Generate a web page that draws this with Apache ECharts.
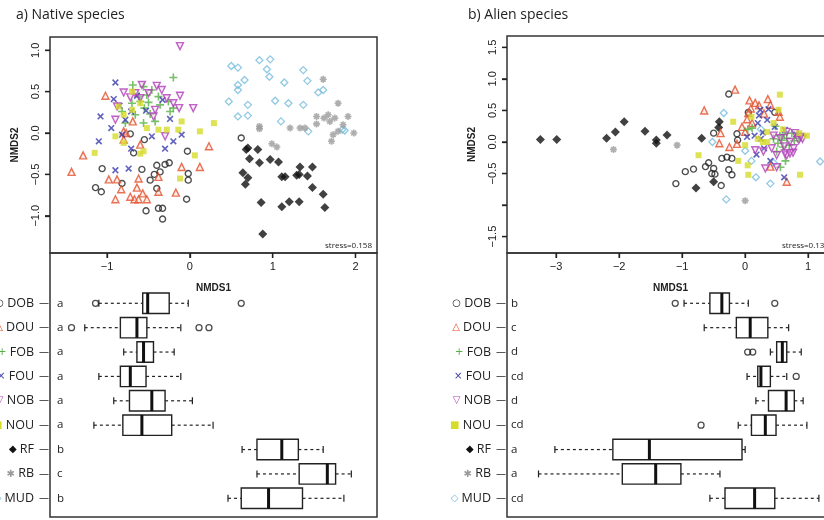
<!DOCTYPE html>
<html><head><meta charset="utf-8">
<script src="https://cdn.jsdelivr.net/npm/echarts@6/dist/echarts.min.js"></script>
<style>html,body{margin:0;padding:0;background:#fff}#c{width:824px;height:520px}</style>
</head><body><div id="c"></div>
<script>
// ---------- categories ----------
const groups = ['DOB','DOU','FOB','FOU','NOB','NOU','RF','RB','MUD'];
const lettersA = ['a','a','a','a','a','a','b','c','b'];
const lettersB = ['b','c','d','cd','d','cd','a','a','cd'];
// ---------- ticks ----------
const xTicksA = [-1,0,1,2];
const yTicksA = [-1,-0.5,0,0.5,1];
const xTicksB = [-3,-2,-1,0,1];
const yTicksB = [-1.5,-1,-0.5,0,0.5,1,1.5];
const yLabelsB = [-1.5,-0.5,0,0.5,1,1.5];

// ---------- panel a NMDS points [NMDS1, NMDS2] ----------
const dobA = [[0.62,-0.06],[-0.55,-0.08],[-0.72,-0.01],[-0.68,-0.24],[-0.03,-0.22],[-1.06,-0.43],[-0.58,-0.44],[-0.40,-0.39],[-0.30,-0.38],[-0.25,-0.36],[-0.43,-0.50],[-0.48,-0.57],[-0.36,-0.47],[-0.02,-0.49],[-0.02,-0.57],[-0.82,-0.61],[-1.14,-0.66],[-1.07,-0.71],[-0.40,-0.67],[-0.04,-0.80],[-0.53,-0.94],[-0.38,-0.91],[-0.33,-0.91],[-0.33,-1.04]];
const douA = [[-1.02,0.45],[-0.69,0.14],[-0.80,0.02],[-0.77,0.00],[-0.80,-0.08],[-0.60,-0.14],[0.23,-0.16],[-1.29,-0.27],[-1.43,-0.47],[-0.10,-0.41],[0.12,-0.41],[-0.98,-0.56],[-0.88,-0.56],[-0.62,-0.55],[-0.38,-0.53],[-0.83,-0.68],[-0.64,-0.66],[-0.38,-0.71],[-0.17,-0.72],[-0.90,-0.80],[-0.72,-0.77],[-0.67,-0.80],[-0.62,-0.80],[-0.57,-0.73],[-0.52,-0.80]];
const fobA = [[-0.20,0.67],[-0.69,0.58],[-0.56,0.56],[-0.46,0.52],[-0.62,0.44],[-0.52,0.46],[-0.38,0.44],[-0.70,0.36],[-0.60,0.38],[-0.50,0.37],[-0.36,0.34],[-0.20,0.30],[-0.26,0.38],[-0.82,0.26],[-0.66,0.22],[-0.48,0.23],[-0.56,0.12],[-0.42,0.14],[-0.78,0.12],[-0.24,0.26],[-0.55,0.30]];
const fouA = [[-0.90,0.61],[-0.92,0.41],[-1.08,0.20],[-0.95,0.06],[-0.71,0.26],[-0.53,0.27],[-0.33,0.40],[-0.24,0.17],[-0.78,0.16],[-0.10,-0.02],[-0.20,-0.10],[-0.30,-0.19],[-0.46,-0.04],[-0.71,-0.19],[-0.90,-0.45],[-0.74,-0.43],[-1.10,-0.10],[-0.82,-0.02],[-0.64,0.45],[-0.85,0.33]];
const nobA = [[-0.12,1.05],[-0.58,0.58],[-0.40,0.57],[-0.34,0.52],[-0.80,0.49],[-0.72,0.43],[-0.50,0.48],[-0.28,0.42],[-0.12,0.45],[0.04,0.30],[-0.13,0.30],[-0.20,0.36],[-0.88,0.32],[-0.90,0.16],[-0.42,0.28],[-0.44,0.20],[-0.60,0.42],[-0.30,-0.04],[-0.66,0.48]];
const nouA = [[-0.70,0.50],[-0.86,0.32],[-0.80,0.22],[-0.60,0.36],[-0.10,0.14],[0.12,0.02],[0.29,0.12],[-0.38,0.04],[-0.28,0.04],[-0.14,0.04],[-0.52,0.06],[-0.90,-0.04],[-0.70,0.28],[-1.15,-0.24],[-0.60,-0.25],[-0.56,-0.22],[0.06,-0.27],[-0.12,-0.55],[-0.80,-0.12]];
const rfA = [[0.70,-0.18],[0.68,-0.20],[0.82,-0.20],[0.72,-0.31],[0.84,-0.36],[0.97,-0.32],[1.07,-0.35],[1.33,-0.41],[1.48,-0.41],[0.64,-0.48],[0.70,-0.54],[0.67,-0.62],[1.11,-0.53],[1.15,-0.53],[1.29,-0.51],[1.32,-0.50],[1.42,-0.52],[1.48,-0.66],[1.61,-0.74],[1.63,-0.90],[1.32,-0.83],[1.20,-0.83],[1.11,-0.89],[0.86,-0.84],[0.88,-1.22]];
const rbA = [[1.61,0.65],[0.84,0.08],[0.84,0.05],[1.21,0.06],[1.33,0.06],[1.39,0.06],[1.53,0.11],[1.53,0.20],[1.67,0.22],[1.75,0.18],[1.69,0.14],[1.91,0.20],[1.79,0.36],[1.73,-0.02],[1.79,0.02],[1.71,-0.10],[1.98,0.00],[0.99,-0.13],[1.05,-0.17],[1.85,0.10],[1.62,0.18]];
const mudA = [[0.50,0.81],[0.58,0.79],[0.84,0.88],[0.97,0.89],[0.93,0.77],[0.96,0.68],[0.66,0.64],[0.58,0.58],[0.58,0.52],[0.47,0.38],[0.70,0.34],[0.58,0.20],[0.70,0.21],[1.14,0.61],[1.03,0.39],[1.19,0.36],[1.10,0.14],[1.37,0.76],[1.42,0.63],[1.37,0.34],[1.55,0.49],[1.61,0.52],[1.43,0.02],[1.84,0.04],[1.87,0.03]];

// ---------- panel b NMDS points ----------
const dobB = [[-0.26,0.76],[0.05,0.47],[-0.50,0.14],[-0.13,0.13],[0.47,0.47],[-1.10,-0.66],[-0.95,-0.47],[-0.82,-0.43],[-0.63,-0.39],[-0.58,-0.33],[-0.50,-0.42],[-0.53,-0.50],[-0.48,-0.51],[-0.37,-0.26],[-0.29,-0.24],[-0.21,-0.26],[-0.26,-0.44],[-0.21,-0.52],[-0.38,-0.69],[-0.12,0.03]];
const douB = [[-0.16,0.83],[-0.65,0.50],[0.07,0.66],[0.16,0.62],[0.36,0.68],[0.40,0.59],[0.09,0.53],[0.05,0.46],[0.53,0.48],[0.55,0.40],[0.03,0.36],[-0.05,0.24],[0.00,0.16],[-0.39,0.14],[-0.41,-0.02],[-0.25,-0.08],[-0.13,-0.03],[0.11,0.30],[0.40,-0.39],[0.66,-0.63],[0.22,0.58],[0.30,0.45]];
const fobB = [[0.45,0.05],[0.52,-0.02],[0.55,0.10],[0.58,0.03],[0.60,-0.08],[0.62,0.12],[0.66,0.06],[0.70,-0.05],[0.74,0.14],[0.78,0.02],[0.85,0.06],[0.89,0.10],[0.50,-0.15],[0.64,-0.30],[0.04,0.20],[0.11,0.22],[0.56,-0.40],[0.48,0.25]];
const fouB = [[0.24,0.51],[0.37,0.52],[0.47,0.24],[0.03,0.08],[0.62,-0.56],[0.63,0.19],[0.20,0.30],[0.25,0.05],[0.30,-0.10],[0.18,-0.20],[0.35,0.35],[0.28,0.15],[0.40,-0.30],[0.22,0.42],[0.81,0.12],[0.15,0.10]];
const nobB = [[0.66,0.16],[0.79,0.14],[0.56,0.06],[0.71,0.00],[0.85,0.03],[0.62,-0.07],[0.77,-0.10],[0.42,-0.10],[0.29,-0.15],[0.16,-0.13],[0.50,-0.21],[0.66,-0.21],[0.76,-0.17],[0.32,-0.42],[0.50,-0.40],[0.63,-0.18],[0.71,-0.18],[0.88,0.08],[0.91,0.05],[0.45,0.10]];
const nouB = [[-0.74,-0.21],[0.04,-0.37],[0.05,-0.52],[0.87,-0.52],[0.55,0.75],[-0.19,0.32],[0.35,0.16],[0.35,0.00],[0.28,0.00],[0.00,-0.05],[0.86,0.14],[0.98,0.10],[0.53,0.51],[0.10,0.40],[0.45,0.30],[0.20,0.05],[0.60,0.20],[-0.11,-0.30]];
const rfB = [[-3.25,0.04],[-2.99,0.04],[-2.20,0.06],[-2.06,0.16],[-1.92,0.32],[-1.59,0.17],[-1.41,0.03],[-1.41,-0.02],[-1.24,0.11],[-0.69,0.06],[-0.41,0.32],[-0.42,0.23],[-0.50,-0.63],[-0.78,-0.73]];
const rbB = [[-2.09,-0.12],[-1.08,-0.05],[0.00,-0.93]];
const mudB = [[-0.34,0.46],[-0.52,0.00],[-0.30,-0.91],[0.00,-0.14],[0.17,-0.56],[0.40,-0.66],[1.19,-0.31],[0.45,-0.33],[0.10,-0.30],[0.25,0.20]];

// ---------- boxplot summaries [min, Q1, median, Q3, max] of NMDS1 ----------
const boxA = [[-1.10,-0.57,-0.51,-0.25,-0.02],[-1.27,-0.84,-0.64,-0.52,-0.11],[-0.80,-0.64,-0.56,-0.44,-0.19],[-1.10,-0.84,-0.72,-0.53,-0.11],[-0.92,-0.73,-0.46,-0.30,0.03],[-1.16,-0.81,-0.58,-0.22,0.28],[0.63,0.81,1.11,1.31,1.61],[0.81,1.32,1.66,1.76,1.95],[0.46,0.62,0.95,1.36,1.86]];
const outA = [[-1.14,0],[0.62,0],[-1.43,1],[0.11,1],[0.23,1]];
const boxB = [[-0.97,-0.56,-0.37,-0.25,0.05],[-0.65,-0.14,0.08,0.36,0.69],[0.40,0.50,0.59,0.66,0.89],[0.03,0.20,0.25,0.40,0.66],[0.17,0.37,0.65,0.78,0.92],[-0.11,0.10,0.32,0.49,0.98],[-3.02,-2.10,-1.52,-0.05,0.00],[-3.28,-1.95,-1.42,-1.02,-0.40],[-0.56,-0.32,0.15,0.47,1.17]];
const outB = [[-1.11,0],[0.47,0],[0.04,2],[0.12,2],[0.81,3],[-0.70,5]];

// ---------- styles ----------
const plusPath = 'path://M4,0H6V4H10V6H6V10H4V6H0V4H4Z';
const starPath = 'path://M0,5L10,5M5,0L5,10M1.5,1.5L8.5,8.5M1.5,8.5L8.5,1.5';
const sty = {
  DOB:{symbol:'circle',size:6,rot:0,item:{color:'rgba(0,0,0,0)',borderColor:'#222',borderWidth:1.4}},
  DOU:{symbol:'triangle',size:7,rot:0,item:{color:'rgba(255,200,190,0.35)',borderColor:'#e2502a',borderWidth:1.4}},
  FOB:{symbol:plusPath,size:8,rot:0,item:{color:'#55b044'}},
  FOU:{symbol:plusPath,size:8,rot:45,item:{color:'#3a3aae'}},
  NOB:{symbol:'triangle',size:7,rot:180,item:{color:'rgba(230,190,235,0.35)',borderColor:'#b03cb8',borderWidth:1.4}},
  NOU:{symbol:'rect',size:6,rot:0,item:{color:'#d6dc2c'}},
  RF:{symbol:'diamond',size:9,rot:0,item:{color:'#111'}},
  RB:{symbol:starPath,size:7,rot:0,item:{color:'rgba(0,0,0,0)',borderColor:'#9a9a9a',borderWidth:1.6}},
  MUD:{symbol:'diamond',size:7,rot:0,item:{color:'rgba(0,0,0,0)',borderColor:'#76bcdc',borderWidth:1.3}}
};
const glyph = ['○','△','+','×','▽','■','◆','✱','◇'];
const glyphColor = ['#222','#e2502a','#55b044','#3a3aae','#b03cb8','#d6dc2c','#111','#9a9a9a','#76bcdc'];

const F = '"Open Sans", "DejaVu Sans", sans-serif';
const FA = '"Liberation Sans", Arial, sans-serif';
const minus = s => String(s).replace('-', '\u2212');
const FRAME = '#333';

const rich = {t:{fontFamily:F,fontSize:12.5,color:'#222'},d:{fontFamily:'"DejaVu Sans"',fontSize:10,color:'#222',padding:[0,0,0,5]}};
glyph.forEach((g,i)=>{ rich['s'+i] = {fontFamily:'"DejaVu Sans"',fontSize:10,color:glyphColor[i]}; });

const lineOff = {show:false,onZero:false};
function scatterX(gi, ticks, min, max){
  return {gridIndex:gi,type:'value',min,max,
    axisLine:lineOff,splitLine:{show:false},
    axisTick:{show:true,length:5,customValues:ticks,lineStyle:{color:'#222',width:1.3}},
    axisLabel:{customValues:ticks,margin:8,fontSize:11,color:'#222',fontFamily:FA,formatter:v=>minus(v)},
    name:'NMDS1',nameLocation:'middle',nameGap:30,nameTextStyle:{fontSize:10,fontWeight:'bold',color:'#222',fontFamily:FA}};
}
function scatterY(gi, ticks, labels, min, max){
  return {gridIndex:gi,type:'value',min,max,
    axisLine:lineOff,splitLine:{show:false},
    axisTick:{show:true,length:5,customValues:ticks,lineStyle:{color:'#222',width:1.3}},
    axisLabel:{customValues:labels,rotate:90,margin:9,fontSize:11,color:'#222',fontFamily:FA,formatter:v=>minus(Number(v).toFixed(1))},
    name:'NMDS2',nameLocation:'middle',nameGap:30,nameTextStyle:{fontSize:10,fontWeight:'bold',color:'#222',fontFamily:FA}};
}
function hiddenX(gi,min,max){return {gridIndex:gi,type:'value',min,max,show:false,axisLine:{onZero:false}};}
function hiddenY(gi){return {gridIndex:gi,type:'value',min:0,max:1,show:false,axisLine:{onZero:false}};}
function catY(gi){
  return {gridIndex:gi,type:'category',data:groups,inverse:true,position:'left',
    axisLine:lineOff,axisTick:{show:false},
    axisLabel:{margin:1,rich,formatter:(v,i)=>'{s'+i+'|'+glyph[i]+'}{t| '+v+'}{d|\u2014}'}};
}
function letterY(gi, letters, margin){
  return {gridIndex:gi,type:'category',data:letters,inverse:true,position:'left',
    axisLine:lineOff,axisTick:{show:false},
    axisLabel:{inside:true,margin,fontSize:11.5,color:'#222',fontFamily:F}};
}

const tickStyle = {stroke:'#222',lineWidth:1.3};
function boxRender(params, api){
  const idx = api.value(0);
  const p = [1,2,3,4,5].map(k=>api.coord([api.value(k), idx]));
  const y = p[0][1];
  const band = api.size([0,1])[1];
  const h = band*0.42, c = 3.5;
  const ls = {stroke:'#222',lineWidth:1.2};
  return {type:'group',children:[
    {type:'line',shape:{x1:p[0][0],y1:y,x2:p[1][0],y2:y},style:Object.assign({lineDash:[3,3]},ls)},
    {type:'line',shape:{x1:p[3][0],y1:y,x2:p[4][0],y2:y},style:Object.assign({lineDash:[3,3]},ls)},
    {type:'line',shape:{x1:p[0][0],y1:y-c,x2:p[0][0],y2:y+c},style:ls},
    {type:'line',shape:{x1:p[4][0],y1:y-c,x2:p[4][0],y2:y+c},style:ls},
    {type:'rect',shape:{x:p[1][0],y:y-h,width:p[3][0]-p[1][0],height:2*h},style:{fill:'#fff',stroke:'#222',lineWidth:1.4}},
    {type:'line',shape:{x1:p[2][0],y1:y-h,x2:p[2][0],y2:y+h},style:{stroke:'#111',lineWidth:3}}
  ]};
}
function xTickRender(params, api){
  const cs = params.coordSys;
  const px = api.coord([api.value(0), api.value(1)])[0];
  const yb = cs.y + cs.height;
  return {type:'line',z2:100,shape:{x1:px,y1:yb,x2:px,y2:yb+5},style:tickStyle};
}
function yTickRender(params, api){
  const cs = params.coordSys;
  const py = api.coord([api.value(0), api.value(1)])[1];
  return {type:'line',z2:100,shape:{x1:cs.x-5,y1:py,x2:cs.x,y2:py},style:tickStyle};
}

const order = ['MUD','RB','RF','DOB','DOU','FOB','FOU','NOB','NOU'];
const dataA = {DOB:dobA,DOU:douA,FOB:fobA,FOU:fouA,NOB:nobA,NOU:nouA,RF:rfA,RB:rbA,MUD:mudA};
const dataB = {DOB:dobB,DOU:douB,FOB:fobB,FOU:fouB,NOB:nobB,NOU:nouB,RF:rfB,RB:rbB,MUD:mudB};

const series = [];
function addScatter(dataMap, xi, yi, xt, yt){
  order.forEach(g=>{
    const s = sty[g];
    series.push({type:'scatter',xAxisIndex:xi,yAxisIndex:yi,data:dataMap[g],symbol:s.symbol,symbolSize:s.size,symbolRotate:s.rot,itemStyle:s.item,silent:true,animation:false});
  });
  series.push({type:'custom',xAxisIndex:xi,yAxisIndex:yi,data:xt.map(v=>[v,0]),renderItem:xTickRender,clip:false,silent:true,animation:false,z:10});
  series.push({type:'custom',xAxisIndex:xi,yAxisIndex:yi,data:yt.map(v=>[0,v]),renderItem:yTickRender,clip:false,silent:true,animation:false,z:10});
}
addScatter(dataA,0,0,xTicksA,yTicksA);
addScatter(dataB,3,4,xTicksB,yTicksB);
function addBox(box, out, xi, yi){
  series.push({type:'custom',xAxisIndex:xi,yAxisIndex:yi,data:box.map((b,i)=>[i].concat(b)),encode:{y:0,x:[1,2,3,4,5]},renderItem:boxRender,silent:true,animation:false,clip:false});
  series.push({type:'scatter',xAxisIndex:xi,yAxisIndex:yi,data:out,symbol:'circle',symbolSize:6,itemStyle:{color:'rgba(0,0,0,0)',borderColor:'#222',borderWidth:1.3},silent:true,animation:false});
}

const xA=[-1.69,2.26], yA=[-1.45,1.16], xB=[-3.78,1.41], yB=[-1.76,1.68];
const gridStyle = {show:true,borderColor:FRAME,borderWidth:1.5,backgroundColor:'rgba(0,0,0,0)',outerBoundsMode:'none',containLabel:false};
const plainGrid = {show:false,outerBoundsMode:'none',containLabel:false};
const boxTop = 291.1, boxH = 219.4;

const option = {
  animation:false,
  backgroundColor:'#fff',
  title:[
    {text:'a) Native species',left:11,top:3,textStyle:{fontFamily:F,fontSize:14,fontWeight:'normal',color:'#222'}},
    {text:'b) Alien species',left:463,top:3,textStyle:{fontFamily:F,fontSize:14,fontWeight:'normal',color:'#222'}}
  ],
  grid:[
    Object.assign({left:50,top:37,width:327,height:216},gridStyle),   //0 scatter a
    Object.assign({left:50,top:253,width:327,height:264},gridStyle),  //1 box frame a
    Object.assign({left:50,top:boxTop,width:327,height:boxH},plainGrid), //2 box data a
    Object.assign({left:507,top:36,width:327,height:217},gridStyle),  //3 scatter b
    Object.assign({left:507,top:253,width:327,height:264},gridStyle), //4 box frame b
    Object.assign({left:507,top:boxTop,width:327,height:boxH},plainGrid) //5 box data b
  ],
  xAxis:[
    scatterX(0,xTicksA,xA[0],xA[1]),
    hiddenX(1,0,1),
    hiddenX(2,xA[0],xA[1]),
    scatterX(3,xTicksB,xB[0],xB[1]),
    hiddenX(4,0,1),
    hiddenX(5,xB[0],xB[1])
  ],
  yAxis:[
    scatterY(0,yTicksA,yTicksA,yA[0],yA[1]),   //0
    hiddenY(1),                                //1
    catY(2),                                   //2
    letterY(2,lettersA,7),                     //3
    scatterY(3,yTicksB,yLabelsB,yB[0],yB[1]),  //4
    hiddenY(4),                                //5
    catY(5),                                   //6
    letterY(5,lettersB,4)                      //7
  ],
  graphic:[
    {type:'text',x:372,y:246,style:{text:'stress=0.158',fontSize:8,fontFamily:F,fill:'#222',textAlign:'right',textVerticalAlign:'middle'}},
    {type:'text',x:829,y:246,style:{text:'stress=0.137',fontSize:8,fontFamily:F,fill:'#222',textAlign:'right',textVerticalAlign:'middle'}}
  ],
  series
};
addBox(boxA,outA,2,2);
addBox(boxB,outB,5,6);

const chart = echarts.init(document.getElementById('c'),null,{renderer:'canvas'});
chart.setOption(option);
</script></body></html>
